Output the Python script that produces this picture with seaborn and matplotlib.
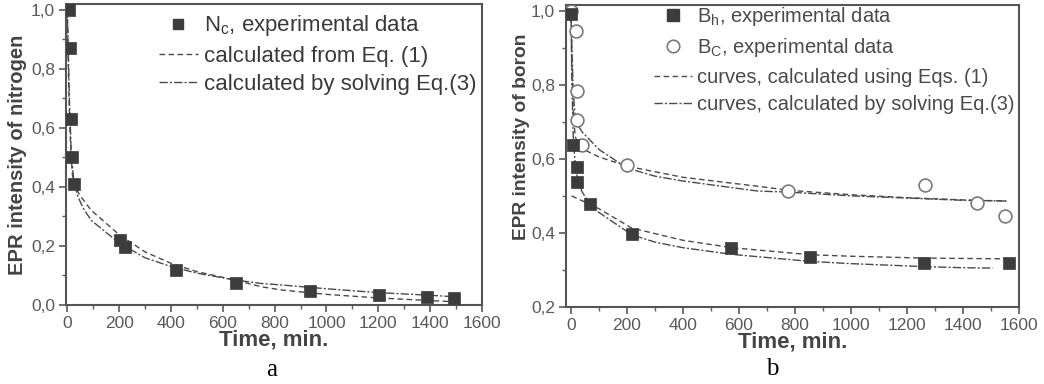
import numpy as np
import pandas as pd
import matplotlib
matplotlib.use("Agg")
import matplotlib.pyplot as plt
from matplotlib.ticker import MultipleLocator, FuncFormatter
from matplotlib.lines import Line2D
import seaborn as sns

sns.set_theme(style="white")
plt.rcParams['font.family'] = ['Liberation Sans', 'DejaVu Sans']
plt.rcParams['mathtext.fontset'] = 'custom'
plt.rcParams['mathtext.rm'] = 'Liberation Sans'
plt.rcParams['mathtext.it'] = 'Liberation Sans'

# ---------------- Panel a: nitrogen ----------------
t_nc = [6, 9, 15, 17, 26, 202, 221, 420, 651, 938, 1204, 1387, 1491]
nc_exp = [1.0, 0.87, 0.63, 0.50, 0.41, 0.22, 0.197, 0.118, 0.076, 0.046, 0.034, 0.028, 0.024]

t_a_eq1 = [0, 3, 6, 10, 15, 20, 30, 50, 92, 202, 300, 401, 500, 645, 748, 825, 1000, 1198, 1400, 1493]
nc_eq1 = [1.0, 0.85, 0.72, 0.60, 0.50, 0.44, 0.40, 0.37, 0.321, 0.237, 0.18, 0.141, 0.113, 0.085, 0.062, 0.051, 0.036, 0.024, 0.015, 0.011]

t_a_eq3 = [0, 3, 8, 15, 25, 40, 60, 92, 202, 300, 401, 500, 645, 748, 825, 1000, 1198, 1400, 1493]
nc_eq3 = [1.0, 0.90, 0.70, 0.52, 0.42, 0.37, 0.33, 0.287, 0.209, 0.16, 0.13, 0.108, 0.085, 0.073, 0.068, 0.055, 0.042, 0.033, 0.028]

# ---------------- Panel b: boron ----------------
t_bh = [1, 8, 20, 20, 66, 217, 571, 852, 1262, 1564]
bh_exp = [0.99, 0.638, 0.577, 0.538, 0.478, 0.398, 0.360, 0.336, 0.320, 0.318]

t_bc = [0, 17, 20, 23, 38, 201, 774, 1266, 1451, 1550]
bc_exp = [1.0, 0.946, 0.783, 0.705, 0.638, 0.582, 0.512, 0.529, 0.480, 0.446]

t_bc_eq1 = [0, 3, 8, 15, 25, 40, 100, 200, 400, 665, 777, 1000, 1200, 1400, 1555]
bc_eq1 = [1.0, 0.85, 0.72, 0.66, 0.64, 0.627, 0.605, 0.58, 0.55, 0.526, 0.515, 0.503, 0.495, 0.489, 0.486]

t_bc_eq3 = [0, 3, 8, 15, 25, 40, 100, 200, 300, 400, 665, 777, 1000, 1200, 1400, 1555]
bc_eq3 = [1.0, 0.9, 0.78, 0.71, 0.69, 0.672, 0.625, 0.575, 0.553, 0.54, 0.513, 0.51, 0.50, 0.494, 0.488, 0.486]

t_bh_eq1 = [2, 30, 68, 100, 217, 400, 575, 855, 1000, 1261, 1400, 1560]
bh_eq1 = [0.50, 0.49, 0.477, 0.465, 0.413, 0.38, 0.36, 0.341, 0.337, 0.332, 0.331, 0.330]

t_bh_eq3 = [0, 3, 8, 15, 25, 40, 68, 100, 217, 300, 400, 575, 855, 1000, 1261, 1400, 1506]
bh_eq3 = [0.99, 0.80, 0.66, 0.58, 0.54, 0.51, 0.477, 0.455, 0.395, 0.375, 0.36, 0.342, 0.323, 0.317, 0.309, 0.306, 0.305]

xticks = [0, 200, 400, 600, 800, 1000, 1200, 1400, 1600]

DARK = "#3c3c3c"
LINEC = "#4a4a4a"
TICKC = "#5a5a5a"
DASHDOT = (0, (6, 1.5, 1.5, 1.5))
DASHED = (0, (4, 2.5))

fig = plt.figure(figsize=(10.44, 3.84), dpi=100)
ax_a = fig.add_axes([66 / 1044, 1 - 305 / 384, 416 / 1044, 301 / 384])
ax_b = fig.add_axes([566 / 1044, 1 - 307 / 384, 453 / 1044, 302 / 384])

comma = FuncFormatter(lambda v, p: f"{v:.1f}".replace(".", ","))


def style(ax, ylim, ymaj, xlim):
    ax.set_xlim(*xlim)
    ax.set_ylim(*ylim)
    ax.set_xticks(xticks)
    ax.xaxis.set_minor_locator(MultipleLocator(100))
    ax.yaxis.set_major_locator(MultipleLocator(ymaj))
    ax.yaxis.set_minor_locator(MultipleLocator(0.1))
    ax.yaxis.set_major_formatter(comma)
    ax.tick_params(axis="both", which="major", direction="out", length=5, width=1.2,
                   color=TICKC, labelsize=12.5, labelcolor=TICKC, left=True, bottom=True, pad=3)
    ax.tick_params(axis="both", which="minor", direction="out", length=3, width=1.0,
                   color=TICKC, left=True, bottom=True)
    for s in ax.spines.values():
        s.set_color("#555555")
        s.set_linewidth(1.5)
    ax.set_xlabel("Time, min.", fontsize=16, fontweight="bold", color="#444444", labelpad=-1)


# ---- Panel a ----
sns.lineplot(x=t_a_eq1, y=nc_eq1, ax=ax_a, color=LINEC, lw=1.0, linestyle=DASHED, estimator=None, sort=False)
sns.lineplot(x=t_a_eq3, y=nc_eq3, ax=ax_a, color=LINEC, lw=1.0, linestyle=DASHDOT, estimator=None, sort=False)
sns.scatterplot(x=t_nc, y=nc_exp, ax=ax_a, marker="s", s=64, color=DARK, edgecolor=DARK, linewidth=0.5, zorder=5)
style(ax_a, (0, 1.02), 0.2, (-5, 1600))
ax_a.set_ylabel("EPR intensity of nitrogen", fontsize=14.5, fontweight="bold", color="#444444", labelpad=3)

h_a = [
    Line2D([], [], marker="s", ls="none", color=DARK, markersize=7),
    Line2D([], [], ls=DASHED, color=LINEC, lw=1.0),
    Line2D([], [], ls=DASHDOT, color=LINEC, lw=1.0),
]
l_a = [r"N$_{c}$, experimental data", "calculated from Eq. (1)", "calculated by solving Eq.(3)"]
ax_a.legend(h_a, l_a, loc="upper right", bbox_to_anchor=(1.036, 1.035), frameon=False, fontsize=16,
            handlelength=1.75, handletextpad=0.3, labelspacing=0.32, labelcolor="#3a3a3a")

# ---- Panel b ----
sns.lineplot(x=t_bc_eq1, y=bc_eq1, ax=ax_b, color=LINEC, lw=1.0, linestyle=DASHED, estimator=None, sort=False)
sns.lineplot(x=t_bc_eq3, y=bc_eq3, ax=ax_b, color=LINEC, lw=1.0, linestyle=DASHDOT, estimator=None, sort=False)
sns.lineplot(x=t_bh_eq1, y=bh_eq1, ax=ax_b, color=LINEC, lw=1.0, linestyle=DASHED, estimator=None, sort=False)
sns.lineplot(x=t_bh_eq3, y=bh_eq3, ax=ax_b, color=LINEC, lw=1.0, linestyle=DASHDOT, estimator=None, sort=False)
sns.scatterplot(x=t_bc, y=bc_exp, ax=ax_b, marker="o", s=85, facecolor="white", edgecolor="#7a7a7a", linewidth=1.2, zorder=5)
sns.scatterplot(x=t_bh, y=bh_exp, ax=ax_b, marker="s", s=80, color=DARK, edgecolor=DARK, linewidth=0.5, zorder=6)
style(ax_b, (0.2, 1.015), 0.2, (-18, 1600))
ax_b.set_ylabel("EPR intensity of boron", fontsize=13.8, fontweight="bold", color="#444444")
ax_b.yaxis.set_label_coords(-0.08, 0.563)

h_b = [
    Line2D([], [], marker="s", ls="none", color=DARK, markersize=8),
    Line2D([], [], marker="o", ls="none", markerfacecolor="white", markeredgecolor="#7a7a7a", markersize=9, mew=1.2),
    Line2D([], [], ls=DASHED, color=LINEC, lw=1.0),
    Line2D([], [], ls=DASHDOT, color=LINEC, lw=1.0),
]
l_b = [r"B$_{h}$, experimental data", r"B$_{C}$, experimental data",
       "curves, calculated using Eqs. (1)", "curves, calculated by solving Eq.(3)"]
ax_b.legend(h_b, l_b, loc="upper right", bbox_to_anchor=(1.031, 1.06), frameon=False, fontsize=14.5,
            handlelength=1.93, handletextpad=0.25, labelspacing=0.42, labelcolor="#4a4a4a")

fig.text(272 / 1044, 1 - 370 / 384, "a", ha="center", va="center", fontsize=18,
         family=["Liberation Serif", "DejaVu Serif"], color="black")
fig.text(772 / 1044, 1 - 369 / 384, "b", ha="center", va="center", fontsize=18,
         family=["Liberation Serif", "DejaVu Serif"], color="black")

fig.savefig("out.png", dpi=100)
